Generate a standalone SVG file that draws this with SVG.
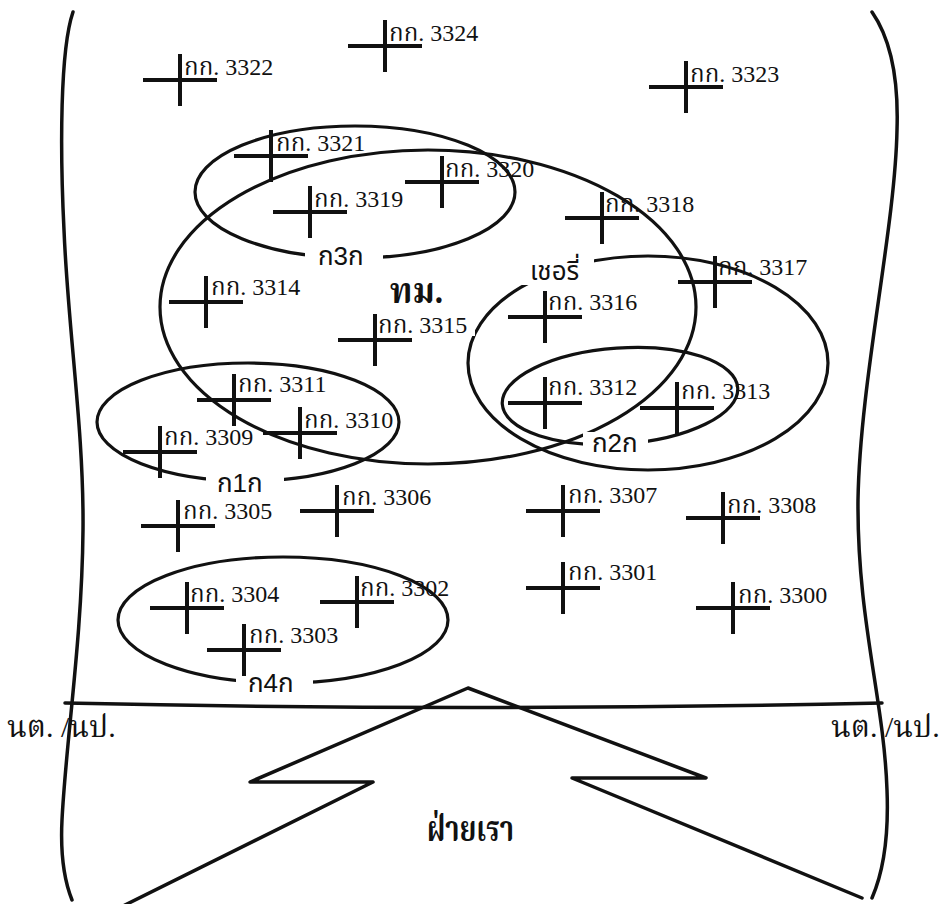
<svg xmlns="http://www.w3.org/2000/svg" width="944" height="904" viewBox="0 0 944 904">
  <style>
    .edge { fill: none; stroke: #111; stroke-width: 3.5; stroke-linecap: round; stroke-linejoin: round; }
    .area { fill: none; stroke: #111; stroke-width: 3.2; }
    .mark { fill: none; stroke: #111; stroke-width: 4; }
    .pt { font-family: "Liberation Serif", "Noto Serif Thai", "Noto Sans Thai", serif; font-size: 24px; fill: #111; }
    .zone { font-family: "Liberation Sans", "Noto Sans Thai", sans-serif; font-size: 26px; fill: #111; }
    .big { font-family: "Liberation Serif", "Noto Serif Thai", "Noto Sans Thai", serif; font-size: 36px; font-weight: bold; fill: #111; }
    .side { font-family: "Liberation Serif", "Noto Serif Thai", "Noto Sans Thai", serif; font-size: 30px; fill: #111; }
    .bg { fill: #fff; }
  </style>
  <defs>
    <path id="plus" class="mark" d="M-37,0H37M0,-26V26"/>
  </defs>
  <rect width="944" height="904" fill="#fff"/>

  <!-- outer outline, phase line and friendly-side chevron -->
  <g id="connectors">
    <path class="edge" d="M73,12 C60,50 60,150 64,230 C68,330 84,430 83,530 C82,640 66,740 62,820 C60,860 66,885 72,900"/>
    <path class="edge" d="M872,12 C888,35 899,70 897,130 C895,230 860,380 858,500 C857,620 884,700 887,790 C889,840 882,875 872,898"/>
    <path class="edge" d="M65,703 Q470,712 882,703"/>
    <path class="edge" d="M123,906 L373,782 L250,782 L468,688 L706,778 L572,778 L862,898"/>
  </g>

  <!-- grid points -->
  <g id="p3324" transform="translate(385,46)"><use href="#plus"/><text class="pt" x="4" y="-5">กก. 3324</text></g>
  <g id="p3322" transform="translate(180,80)"><use href="#plus"/><text class="pt" x="4" y="-5">กก. 3322</text></g>
  <g id="p3323" transform="translate(686,87)"><use href="#plus"/><text class="pt" x="4" y="-5">กก. 3323</text></g>
  <g id="p3321" transform="translate(271,156)"><use href="#plus"/><text class="pt" x="5" y="-5">กก. 3321</text></g>
  <g id="p3320" transform="translate(442,182)"><use href="#plus"/><text class="pt" x="3" y="-5">กก. 3320</text></g>
  <g id="p3319" transform="translate(310,212)"><use href="#plus"/><text class="pt" x="4" y="-5">กก. 3319</text></g>
  <g id="p3318" transform="translate(602,218)"><use href="#plus"/><text class="pt" x="3" y="-6">กก. 3318</text></g>
  <g id="p3317" transform="translate(715,282)"><use href="#plus"/><text class="pt" x="3" y="-7">กก. 3317</text></g>
  <g id="p3314" transform="translate(206,302)"><use href="#plus"/><text class="pt" x="5" y="-7">กก. 3314</text></g>
  <g id="p3316" transform="translate(545,317)"><use href="#plus"/><text class="pt" x="3" y="-7">กก. 3316</text></g>
  <g id="p3311" transform="translate(234,400)"><use href="#plus"/><text class="pt" x="4" y="-8">กก. 3311</text></g>
  <g id="p3312" transform="translate(545,403)"><use href="#plus"/><text class="pt" x="3" y="-8">กก. 3312</text></g>
  <g id="p3313" transform="translate(677,408)"><use href="#plus"/><text class="pt" x="4" y="-9">กก. 3313</text></g>
  <g id="p3310" transform="translate(300,433)"><use href="#plus"/><text class="pt" x="4" y="-5">กก. 3310</text></g>
  <g id="p3309" transform="translate(160,452)"><use href="#plus"/><text class="pt" x="4" y="-7">กก. 3309</text></g>
  <g id="p3306" transform="translate(337,511)"><use href="#plus"/><text class="pt" x="5" y="-6">กก. 3306</text></g>
  <g id="p3307" transform="translate(563,511)"><use href="#plus"/><text class="pt" x="5" y="-8">กก. 3307</text></g>
  <g id="p3308" transform="translate(723,518)"><use href="#plus"/><text class="pt" x="4" y="-5">กก. 3308</text></g>
  <g id="p3305" transform="translate(178,526)"><use href="#plus"/><text class="pt" x="5" y="-7">กก. 3305</text></g>
  <g id="p3301" transform="translate(563,588)"><use href="#plus"/><text class="pt" x="5" y="-8">กก. 3301</text></g>
  <g id="p3302" transform="translate(357,602)"><use href="#plus"/><text class="pt" x="3" y="-6">กก. 3302</text></g>
  <g id="p3304" transform="translate(187,608)"><use href="#plus"/><text class="pt" x="3" y="-6">กก. 3304</text></g>
  <g id="p3300" transform="translate(733,608)"><use href="#plus"/><text class="pt" x="5" y="-5">กก. 3300</text></g>
  <g id="p3303" transform="translate(244,650)"><use href="#plus"/><text class="pt" x="5" y="-7">กก. 3303</text></g>

  <!-- objective areas -->
  <g id="area-k3k"><ellipse class="area" cx="355" cy="192" rx="160" ry="66"/></g>
  <g id="area-tm"><ellipse class="area" cx="428" cy="307" rx="268" ry="157"/></g>
  <g id="area-cherry"><ellipse class="area" cx="648" cy="363" rx="180" ry="107"/></g>
  <g id="area-k2k"><ellipse class="area" cx="620" cy="396" rx="118" ry="48" transform="rotate(-4 620 396)"/></g>
  <g id="area-k1k"><ellipse class="area" cx="248" cy="422" rx="151" ry="59"/></g>
  <g id="area-k4k"><ellipse class="area" cx="283" cy="620" rx="165" ry="63"/></g>

  <!-- point whose label sits on a cleared patch -->
  <g id="p3315" transform="translate(375,340)"><rect class="bg" x="1" y="-26" width="99" height="22"/><use href="#plus"/><text class="pt" x="3" y="-7">กก. 3315</text></g>

  <!-- area names -->
  <g id="lbl-k3k"><rect class="bg" x="305" y="244" width="78" height="28"/><text class="zone" x="318" y="265">ก3ก</text></g>
  <g id="lbl-cherry"><rect class="bg" x="522" y="246" width="72" height="39"/><text class="zone" x="530" y="280">เชอรี่</text></g>
  <g id="lbl-k1k"><rect class="bg" x="206" y="468" width="78" height="26"/><text class="zone" x="217" y="492">ก1ก</text></g>
  <g id="lbl-k2k"><rect class="bg" x="583" y="432" width="65" height="26"/><text class="zone" x="592" y="452">ก2ก</text></g>
  <g id="lbl-k4k"><rect class="bg" x="236" y="676" width="77" height="22"/><text class="zone" x="248" y="692">ก4ก</text></g>

  <g id="lbl-tm"><text class="big" x="390" y="303" textLength="53" lengthAdjust="spacingAndGlyphs">ทม.</text></g>
  <g id="lbl-own"><text class="big" x="427" y="841" textLength="87" lengthAdjust="spacingAndGlyphs">ฝ่ายเรา</text></g>
  <g id="lbl-left"><text class="side" x="7" y="737">นต. /นป.</text></g>
  <g id="lbl-right"><text class="side" x="831" y="737">นต. /นป.</text></g>
</svg>
